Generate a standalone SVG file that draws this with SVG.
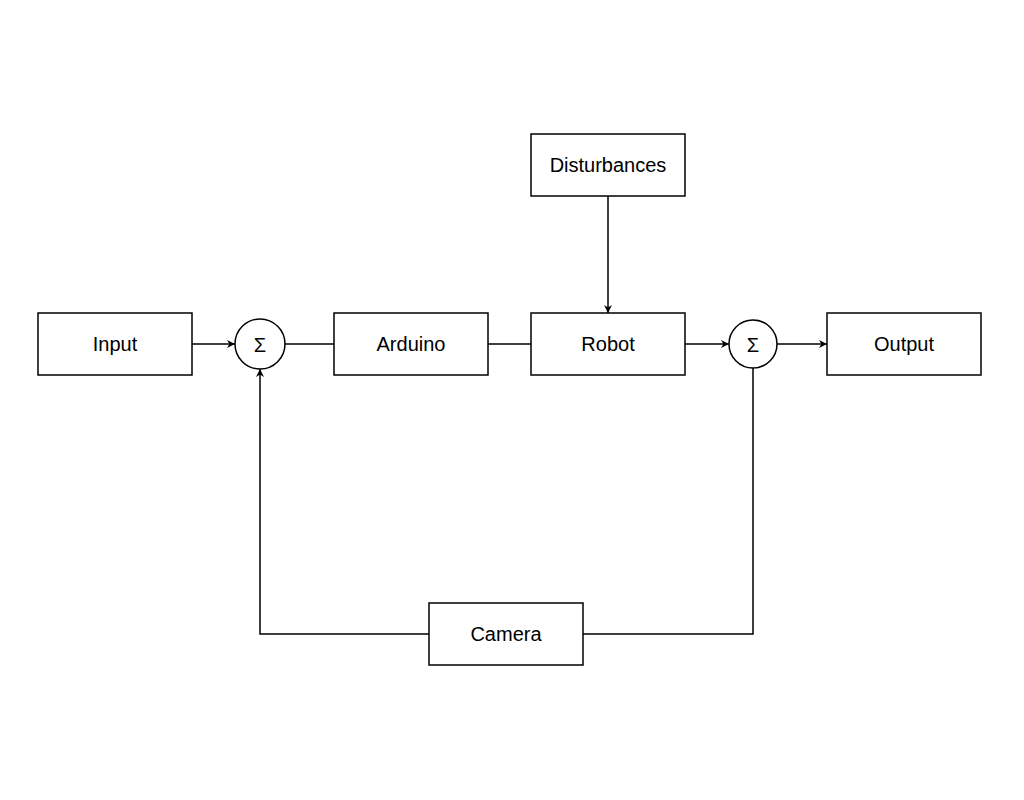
<svg xmlns="http://www.w3.org/2000/svg" width="1024" height="800" viewBox="0 0 1024 800">
<style>
.b{fill:#fff;stroke:#000;stroke-width:1.5}
.t{font-family:"Liberation Sans",Arial,sans-serif;font-size:20px;text-anchor:middle;dominant-baseline:central;fill:#000}
.c{fill:none;stroke:#000;stroke-width:1.5}
</style>
<defs><marker id="a" viewBox="0 0 10 10" refX="10" refY="5" markerWidth="8" markerHeight="8" markerUnits="userSpaceOnUse" orient="auto"><path d="M0,0 L10,5 L0,10 L3,5 Z" fill="#000"/></marker></defs>
<rect width="1024" height="800" fill="#fff"/>
<g id="connectors">
<path class="c" d="M192,344 H235" marker-end="url(#a)"/>
<path class="c" d="M285,344 H334"/>
<path class="c" d="M488,344 H531"/>
<path class="c" d="M685,344 H729" marker-end="url(#a)"/>
<path class="c" d="M777,344 H827" marker-end="url(#a)"/>
<path class="c" d="M608,196 V313" marker-end="url(#a)"/>
<path class="c" d="M753,368 V634 H583"/>
<path class="c" d="M429,634 H260 V369" marker-end="url(#a)"/>
</g>
<g id="input"><rect class="b" x="38" y="313" width="154" height="62"/><text class="t" x="115" y="344">Input</text></g>
<g id="sum1"><circle class="b" cx="260" cy="344" r="25"/><text class="t" x="260" y="345">Σ</text></g>
<g id="arduino"><rect class="b" x="334" y="313" width="154" height="62"/><text class="t" x="411" y="344">Arduino</text></g>
<g id="robot"><rect class="b" x="531" y="313" width="154" height="62"/><text class="t" x="608" y="344">Robot</text></g>
<g id="sum2"><circle class="b" cx="753" cy="344" r="24"/><text class="t" x="753" y="345">Σ</text></g>
<g id="output"><rect class="b" x="827" y="313" width="154" height="62"/><text class="t" x="904" y="344">Output</text></g>
<g id="disturbances"><rect class="b" x="531" y="134" width="154" height="62"/><text class="t" x="608" y="165">Disturbances</text></g>
<g id="camera"><rect class="b" x="429" y="603" width="154" height="62"/><text class="t" x="506" y="634">Camera</text></g>
</svg>
